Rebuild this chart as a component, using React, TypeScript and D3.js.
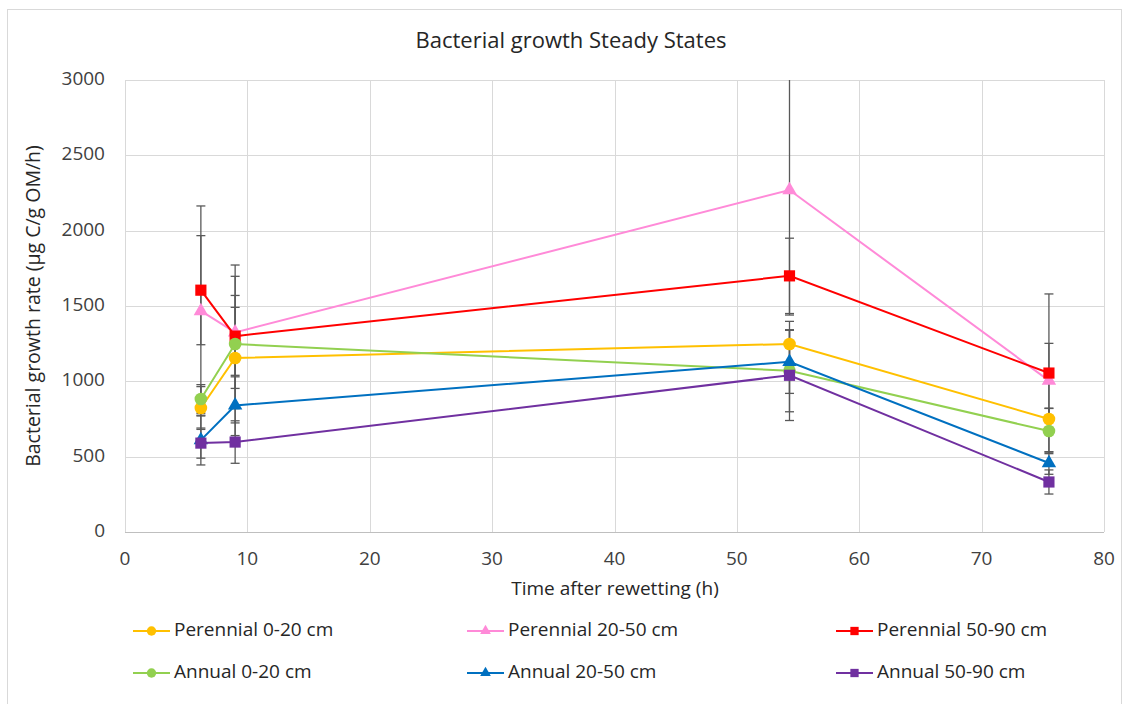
import React from "react";
import * as d3 from "d3";

const times = [6.2, 9, 54.3, 75.5];

const seriesNames = [
  "Perennial 0-20 cm",
  "Perennial 20-50 cm",
  "Perennial 50-90 cm",
  "Annual 0-20 cm",
  "Annual 20-50 cm",
  "Annual 50-90 cm",
];
const seriesColors = ["#FFC000", "#FF8AD8", "#FF0000", "#92D050", "#0070C0", "#7030A0"];
const seriesShapes = ["circle", "triangle", "square", "circle", "triangle", "square"];

const perennial020 = [823, 1155, 1248, 750];
const perennial2050 = [1467, 1325, 2270, 1005];
const perennial5090 = [1605, 1300, 1700, 1055];
const annual020 = [883, 1248, 1070, 670];
const annual2050 = [610, 840, 1130, 458];
const annual5090 = [590, 597, 1040, 332];

const errPerennial020 = [142, 336, 150, 72];
const errPerennial2050 = [697, 372, 830, 247];
const errPerennial5090 = [362, 270, 250, 525];
const errAnnual020 = [95, 524, 272, 150];
const errAnnual2050 = [165, 200, 210, 75];
const errAnnual5090 = [100, 141, 300, 80];

const seriesValues = [perennial020, perennial2050, perennial5090, annual020, annual2050, annual5090];
const seriesErrors = [errPerennial020, errPerennial2050, errPerennial5090, errAnnual020, errAnnual2050, errAnnual5090];

const xTicks = [0, 10, 20, 30, 40, 50, 60, 70, 80];
const yTicks = [0, 500, 1000, 1500, 2000, 2500, 3000];

const title = "Bacterial growth Steady States";
const xTitle = "Time after rewetting (h)";
const yTitle = "Bacterial growth rate (µg C/g OM/h)";

const W = 1129;
const H = 704;
const FONT = "'Open Sans', 'Noto Sans', sans-serif";

function symbolFor(shape: string) {
  if (shape === "circle") return d3.symbolCircle;
  if (shape === "triangle") return d3.symbolTriangle;
  return d3.symbolSquare;
}
function sizeFor(shape: string, legend: boolean) {
  const k = legend ? 0.55 : 1;
  if (shape === "circle") return 125 * k;
  if (shape === "triangle") return 90 * k;
  return 125 * k;
}

export default function App() {
  const x = d3.scaleLinear().domain([0, 80]).range([125, 1104]);
  const y = d3.scaleLinear().domain([0, 3000]).range([532, 80]);
  const line = d3
    .line<number>()
    .x((_, i) => x(times[i]))
    .y((v) => y(v));

  const legendCols = [133, 467, 836];
  const legendRows = [631, 673];

  return (
    <div style={{ position: "absolute", left: 0, top: 0 }}>
      <svg width={W} height={H} style={{ display: "block", fontFamily: FONT }}>
        <rect x={0} y={0} width={W} height={H} fill="#ffffff" />
        <rect x={7.5} y={9.5} width={1114} height={700} fill="none" stroke="#d9d9d9" strokeWidth={1} />

        <text x={571} y={42} textAnchor="middle" dominantBaseline="middle" fontSize={22} fill="#262626">
          {title}
        </text>

        {/* gridlines */}
        {yTicks.map((t) => (
          <line key={"gy" + t} x1={x(0)} x2={x(80)} y1={Math.round(y(t)) + 0.5} y2={Math.round(y(t)) + 0.5}
            stroke={t === 0 ? "#bfbfbf" : "#d9d9d9"} strokeWidth={1} />
        ))}
        {xTicks.map((t) => (
          <line key={"gx" + t} x1={Math.round(x(t)) + 0.5} x2={Math.round(x(t)) + 0.5} y1={y(3000)} y2={y(0)}
            stroke="#d9d9d9" strokeWidth={1} />
        ))}

        {/* tick labels */}
        {yTicks.map((t) => (
          <text key={"ty" + t} x={105} y={y(t)} textAnchor="end" dominantBaseline="middle" fontSize={19} fill="#404040">
            {t}
          </text>
        ))}
        {xTicks.map((t) => (
          <text key={"tx" + t} x={x(t)} y={560} textAnchor="middle" dominantBaseline="middle" fontSize={19} fill="#404040">
            {t}
          </text>
        ))}

        <text x={615} y={590} textAnchor="middle" dominantBaseline="middle" fontSize={19} fill="#262626">
          {xTitle}
        </text>
        <text transform={`translate(35,${(y(0) + y(3000)) / 2}) rotate(-90)`} textAnchor="middle" dominantBaseline="middle"
          fontSize={19.5} fill="#262626">
          {yTitle}
        </text>

        {/* error bars */}
        {seriesValues.map((vals, si) =>
          vals.map((v, i) => {
            const e = seriesErrors[si][i];
            const cx = x(times[i]);
            const top = Math.min(v + e, 3000);
            const bot = Math.max(v - e, 0);
            return (
              <g key={`e${si}-${i}`} stroke="#595959" strokeWidth={1.3}>
                <line x1={cx} x2={cx} y1={y(top)} y2={y(bot)} />
                {v + e <= 3000 && <line x1={cx - 4.5} x2={cx + 4.5} y1={y(v + e)} y2={y(v + e)} />}
                <line x1={cx - 4.5} x2={cx + 4.5} y1={y(bot)} y2={y(bot)} />
              </g>
            );
          })
        )}

        {/* series */}
        {seriesValues.map((vals, si) => (
          <g key={"s" + si}>
            <path d={line(vals) || ""} fill="none" stroke={seriesColors[si]} strokeWidth={2} />
            {vals.map((v, i) => (
              <path key={i}
                d={d3.symbol().type(symbolFor(seriesShapes[si])).size(sizeFor(seriesShapes[si], false))() || ""}
                transform={`translate(${x(times[i])},${y(v)})`}
                fill={seriesColors[si]} />
            ))}
          </g>
        ))}

        {/* legend */}
        {seriesNames.map((name, si) => {
          const lx = legendCols[si % 3];
          const ly = legendRows[Math.floor(si / 3)];
          return (
            <g key={"l" + si}>
              <line x1={lx} x2={lx + 37} y1={ly} y2={ly} stroke={seriesColors[si]} strokeWidth={2} />
              <path d={d3.symbol().type(symbolFor(seriesShapes[si])).size(sizeFor(seriesShapes[si], true))() || ""}
                transform={`translate(${lx + 18.5},${ly})`} fill={seriesColors[si]} />
              <text x={lx + 41} y={ly} dominantBaseline="middle" fontSize={19} fill="#262626">
                {name}
              </text>
            </g>
          );
        })}
      </svg>
    </div>
  );
}
